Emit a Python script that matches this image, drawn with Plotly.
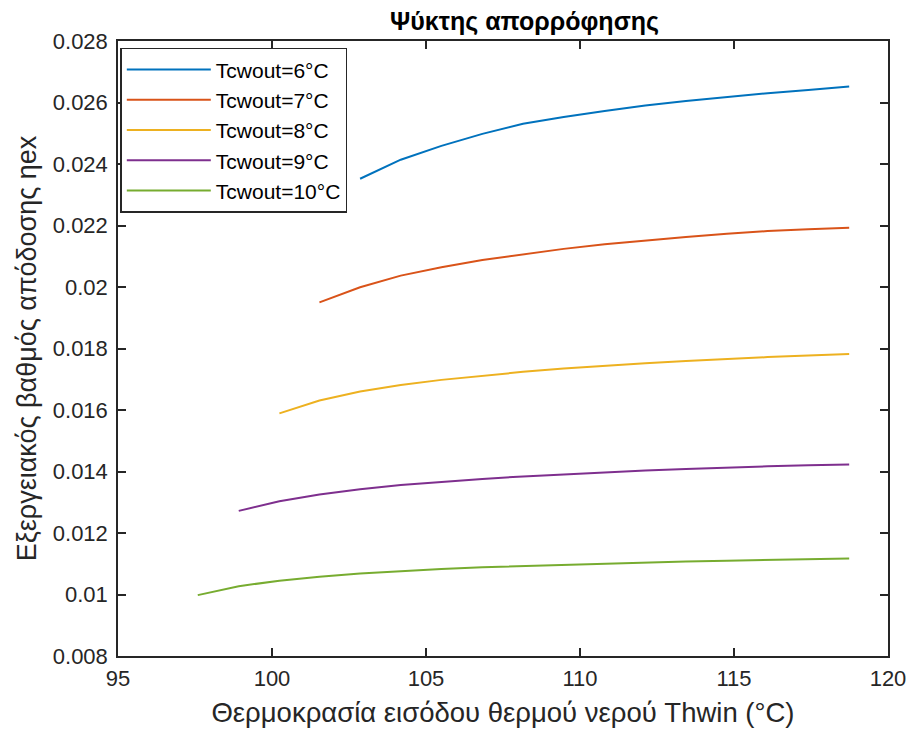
import plotly.graph_objects as go

# ---- data ----
x_6 = [102.86, 104.18, 105.50, 106.83, 108.15, 109.47, 110.80, 112.12, 113.44, 114.77, 116.09, 117.41, 118.74]
y_6 = [0.02352, 0.02414, 0.02459, 0.02498, 0.02531, 0.02553, 0.02572, 0.02590, 0.02605, 0.02618, 0.02630, 0.02641, 0.02652]

x_7 = [101.54, 102.86, 104.18, 105.50, 106.83, 108.15, 109.47, 110.80, 112.12, 113.44, 114.77, 116.09, 117.41, 118.74]
y_7 = [0.01950, 0.01999, 0.02037, 0.02064, 0.02088, 0.02107, 0.02124, 0.02139, 0.02152, 0.02163, 0.02173, 0.02182, 0.02188, 0.02193]

x_8 = [100.24, 101.54, 102.86, 104.18, 105.50, 106.83, 108.15, 109.47, 110.80, 112.12, 113.44, 114.77, 116.09, 117.41, 118.74]
y_8 = [0.01589, 0.01631, 0.01660, 0.01681, 0.01698, 0.01712, 0.01724, 0.01735, 0.01744, 0.01752, 0.01759, 0.01766, 0.01772, 0.01777, 0.01782]

x_9 = [98.92, 100.24, 101.54, 102.86, 104.18, 105.50, 106.83, 108.15, 109.47, 110.80, 112.12, 113.44, 114.77, 116.09, 117.41, 118.74]
y_9 = [0.01272, 0.01303, 0.01325, 0.01342, 0.01356, 0.01367, 0.01376, 0.01384, 0.01391, 0.01397, 0.01403, 0.01408, 0.01413, 0.01417, 0.01420, 0.01423]

x_10 = [97.59, 98.92, 100.24, 101.54, 102.86, 104.18, 105.50, 106.83, 108.15, 109.47, 110.80, 112.12, 113.44, 114.77, 116.09, 117.41, 118.74]
y_10 = [0.00998, 0.01027, 0.01045, 0.01058, 0.01068, 0.01076, 0.01083, 0.01089, 0.01093, 0.01097, 0.01101, 0.01104, 0.01107, 0.01110, 0.01113, 0.01115, 0.01117]

series_names = ["Tcwout=6°C", "Tcwout=7°C", "Tcwout=8°C", "Tcwout=9°C", "Tcwout=10°C"]
series_x = [x_6, x_7, x_8, x_9, x_10]
series_y = [y_6, y_7, y_8, y_9, y_10]
colors = ["#0072BD", "#D95319", "#EDB120", "#7E2F8E", "#77AC30"]

x_ticks = [95, 100, 105, 110, 115, 120]
y_ticks = [0.008, 0.010, 0.012, 0.014, 0.016, 0.018, 0.020, 0.022, 0.024, 0.026, 0.028]
y_tick_text = ["0.008", "0.01", "0.012", "0.014", "0.016", "0.018", "0.02", "0.022", "0.024", "0.026", "0.028"]

FONT = "Liberation Sans, Arial, sans-serif"
AX = "#262626"

fig = go.Figure()
for i, (name, xs, ys, c) in enumerate(zip(series_names, series_x, series_y, colors)):
    fig.add_trace(go.Scatter(x=xs, y=ys, mode="lines", name=name,
                             legendgroup=f"g{i}",
                             line=dict(color=c, width=2)))

axis_common = dict(showline=True, linecolor=AX, linewidth=1.5, mirror="ticks",
                   ticks="inside", ticklen=8, tickwidth=1.5, tickcolor=AX,
                   showgrid=False, zeroline=False,
                   tickfont=dict(family=FONT, size=22, color=AX))

fig.update_layout(
    width=915, height=731,
    margin=dict(l=110, r=35, t=33, b=83),
    paper_bgcolor="white", plot_bgcolor="white",
    title=dict(text="<b>Ψύκτης απορρόφησης</b>", x=0.528, xref="paper", xanchor="center",
               y=0.982, yref="container", yanchor="middle",
               font=dict(family=FONT, size=25, color="black")),
    xaxis=dict(range=[95, 120], tickvals=x_ticks, ticktext=[str(t) for t in x_ticks],
               ticklabelstandoff=2,
               title=dict(text="Θερμοκρασία εισόδου θερμού νερού Thwin (°C)",
                          font=dict(family=FONT, size=27.5, color=AX), standoff=13),
               **axis_common),
    yaxis=dict(range=[0.008, 0.028], tickvals=y_ticks, ticktext=y_tick_text,
               ticklabelstandoff=4,
               title=dict(text="Εξεργειακός βαθμός απόδοσης ηex",
                          font=dict(family=FONT, size=27, color=AX), standoff=8),
               **axis_common),
    legend=dict(x=0.003, y=0.989, xanchor="left", yanchor="top",
                bgcolor="white", bordercolor=AX, borderwidth=1.5,
                font=dict(family=FONT, size=21, color="black"),
                traceorder="grouped", tracegroupgap=0, itemwidth=84),
    showlegend=True,
)

fig.write_html("out.html")
